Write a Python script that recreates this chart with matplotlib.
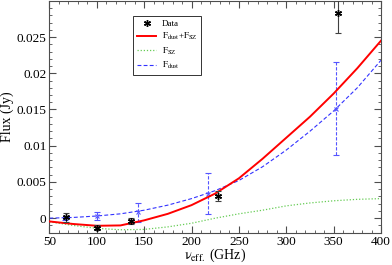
#!/usr/bin/python3

import matplotlib
matplotlib.use("Agg")
import matplotlib.pyplot as plt
from matplotlib.ticker import MultipleLocator, FixedLocator, FuncFormatter

# model curves (GHz, Jy)
freq = [50, 75, 100, 125, 150, 175, 200, 225, 250, 275, 300, 325, 350, 375, 400]
f_total = [-0.00045, -0.0008, -0.00105, -0.0010, -0.0003, 0.0006, 0.0018,
           0.0034, 0.0055, 0.0082, 0.0111, 0.0140, 0.0172, 0.0207, 0.0245]
f_sz = [-0.0005, -0.0010, -0.0014, -0.0016, -0.00155, -0.0012, -0.0007,
        0.0000, 0.0006, 0.0011, 0.0017, 0.0021, 0.0024, 0.0026, 0.0027]
f_dust = [0.0000, 0.0001, 0.0003, 0.0006, 0.0011, 0.0018, 0.0027,
          0.0038, 0.0052, 0.0071, 0.0094, 0.0120, 0.0148, 0.0180, 0.0218]

# measured fluxes
data_freq = [68, 100, 136, 228, 355]
data_flux = [0.0001, -0.0013, -0.0004, 0.0031, 0.0283]
data_err = [0.0006, 0.0004, 0.0004, 0.0007, 0.0027]

# dust model at the band frequencies
dust_freq = [66, 100, 143, 217, 353]
dust_flux = [0.0000, 0.0003, 0.0008, 0.0034, 0.0151]
dust_err = [0.0002, 0.0005, 0.0013, 0.0028, 0.0064]

yticks = [0, 0.005, 0.01, 0.015, 0.02, 0.025]


def main():
    plt.rcParams['font.family'] = ['Liberation Serif', 'DejaVu Serif']
    plt.rcParams['mathtext.fontset'] = 'stix'

    fig = plt.figure(figsize=(3.92, 2.65), dpi=100)
    ax = fig.add_axes([0.126, 0.122, 0.846, 0.875])

    ax.plot(freq, f_total, color='#ff0000', lw=1.4,
            label=r'$\mathrm{F_{dust}}$+$\mathrm{F_{SZ}}$', zorder=3)
    ax.plot(freq, f_sz, color='#66cc55', lw=0.9, ls=(0, (1, 1.5)),
            label=r'$\mathrm{F_{SZ}}$')
    ax.plot(freq, f_dust, color='#3333ff', lw=0.8, ls=(0, (3.5, 2)),
            label=r'$\mathrm{F_{dust}}$')

    eb = ax.errorbar(dust_freq, dust_flux, yerr=dust_err, fmt='x',
                     color='#5555ff', ms=3.5, mew=0.8, elinewidth=0.8,
                     capsize=2.2, capthick=0.8)
    eb[2][0].set_linestyle((0, (3, 1.5)))

    ax.errorbar(data_freq, data_flux, yerr=data_err, fmt='none',
                ecolor='0.25', elinewidth=0.8, capsize=2.5, capthick=0.8,
                zorder=4)
    ax.plot(data_freq, data_flux, ls='none', marker=(6, 2, 0), ms=5,
            mew=1.0, color='black', label='Data', zorder=5)

    ax.set_xlim(50, 400)
    ax.set_ylim(-0.002, 0.03)
    ax.xaxis.set_major_locator(MultipleLocator(50))
    ax.xaxis.set_minor_locator(MultipleLocator(10))
    ax.yaxis.set_major_locator(FixedLocator(yticks))
    ax.yaxis.set_minor_locator(MultipleLocator(0.001))
    ax.yaxis.set_major_formatter(FuncFormatter(lambda v, p: '%g' % round(v, 4)))

    ax.tick_params(which='both', direction='in', top=True, right=True,
                   labelsize=9.5, color='0.3')
    ax.tick_params(axis='y', pad=2)
    ax.tick_params(axis='x', pad=2.5)
    ax.tick_params(which='major', length=5, width=0.8)
    ax.tick_params(which='minor', length=2.5, width=0.6)
    for s in ax.spines.values():
        s.set_color('0.3')
        s.set_linewidth(0.8)

    ax.set_xlabel(r'$\mathrm{\nu_{eff.}}$ (GHz)', fontsize=10, labelpad=-1)
    ax.set_ylabel('Flux (Jy)', fontsize=10, labelpad=2)

    handles, labels = ax.get_legend_handles_labels()
    order = [3, 0, 1, 2]
    leg = ax.legend([handles[i] for i in order], [labels[i] for i in order],
                    loc='upper left', bbox_to_anchor=(0.252, 0.934),
                    borderaxespad=0, fontsize=6.5, handlelength=2.2,
                    handletextpad=0.6, labelspacing=0.35, borderpad=0.4,
                    fancybox=False, framealpha=1)
    leg.get_frame().set_edgecolor('0.2')
    leg.get_frame().set_linewidth(0.7)

    plt.savefig('out.png', dpi=100)


if __name__ == "__main__":
    main()
